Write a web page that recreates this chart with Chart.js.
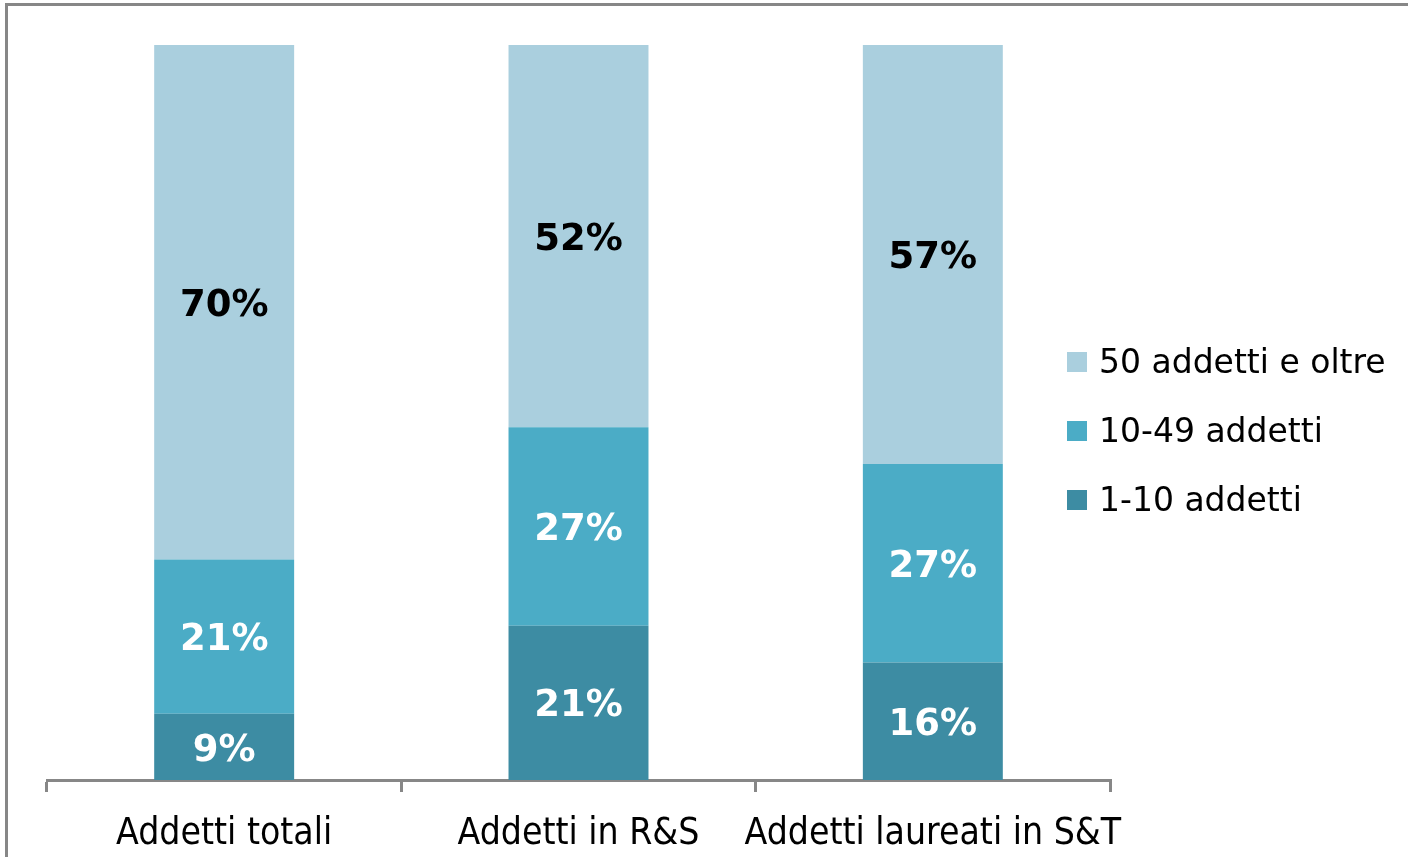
<!DOCTYPE html>
<html>
<head>
<meta charset="utf-8">
<script src="https://cdn.jsdelivr.net/npm/chart.js@4"></script>
<style>
  html, body { margin: 0; padding: 0; background: #fff; overflow: hidden; }
  #wrap { position: absolute; left: 0; top: 0; width: 1408px; height: 857px; }
  #frame { position: absolute; left: 5px; top: 3px; width: 1500px; height: 1000px;
           border-left: 3px solid #878787; border-top: 3px solid #878787; pointer-events: none; }
</style>
</head>
<body>
<div id="wrap">
  <canvas id="chart" width="1408" height="857"></canvas>
</div>
<div id="frame"></div>
<script>
// categories and series (percent shares)
const categories = ['Addetti totali', 'Addetti in R&S', 'Addetti laureati in S&T'];
const small = [9, 21, 16];     // 1-10 addetti
const medium = [21, 27, 27];   // 10-49 addetti
const large = [70, 52, 57];    // 50 addetti e oltre
const seriesNames = ['1-10 addetti', '10-49 addetti', '50 addetti e oltre'];
const colors = ['#3d8ca3', '#4bacc6', '#aacfde'];
const labelColors = ['#ffffff', '#ffffff', '#000000'];

// draw the percent labels in the middle of each segment
const segmentLabels = {
  id: 'segmentLabels',
  afterDatasetsDraw(chart) {
    const ctx = chart.ctx;
    ctx.save();
    ctx.font = 'bold 37px "DejaVu Sans"';
    ctx.textAlign = 'center';
    ctx.textBaseline = 'middle';
    chart.data.datasets.forEach((ds, i) => {
      const meta = chart.getDatasetMeta(i);
      meta.data.forEach((bar, j) => {
        ctx.fillStyle = labelColors[i];
        ctx.fillText(ds.data[j] + '%', bar.x, (bar.y + bar.base) / 2 + 4);
      });
    });
    ctx.restore();
  }
};

// legend sits on the right, overlapping the end of the axis
const sideLegend = {
  id: 'sideLegend',
  afterDraw(chart) {
    const ctx = chart.ctx;
    const ds = chart.data.datasets.slice().reverse();
    ctx.save();
    ctx.font = '33px "DejaVu Sans"';
    ctx.textBaseline = 'middle';
    ds.forEach((d, i) => {
      const y = 362 + i * 69;
      ctx.fillStyle = d.backgroundColor;
      ctx.fillRect(1067, y - 10, 20, 20);
      ctx.fillStyle = '#000';
      ctx.fillText(d.label, 1099, y + 2);
    });
    ctx.restore();
  }
};

const ctx = document.getElementById('chart').getContext('2d');
new Chart(ctx, {
  type: 'bar',
  data: {
    labels: categories,
    datasets: [
      { label: seriesNames[0], data: small, backgroundColor: colors[0] },
      { label: seriesNames[1], data: medium, backgroundColor: colors[1] },
      { label: seriesNames[2], data: large, backgroundColor: colors[2] }
    ]
  },
  options: {
    responsive: false,
    animation: false,
    events: [],
    layout: { padding: { left: 47, right: 298, top: 45, bottom: 0 } },
    datasets: { bar: { categoryPercentage: 1, barPercentage: 0.395, borderWidth: 0 } },
    plugins: { legend: { display: false }, tooltip: { enabled: false } },
    scales: {
      x: {
        stacked: true,
        border: { display: true, color: '#878787', width: 3 },
        grid: { display: true, drawOnChartArea: false, offset: true, color: '#878787', lineWidth: 3, tickLength: 12 },
        ticks: {
          color: '#000',
          font: { family: '"DejaVu Sans Condensed", "DejaVu Sans"', size: 37 },
          padding: 20,
          autoSkip: false,
          maxRotation: 0,
          minRotation: 0
        },
        afterFit(scale) { scale.height = 77; }
      },
      y: {
        stacked: true,
        display: false,
        min: 0,
        max: 100
      }
    }
  },
  plugins: [segmentLabels, sideLegend]
});
</script>
</body>
</html>
